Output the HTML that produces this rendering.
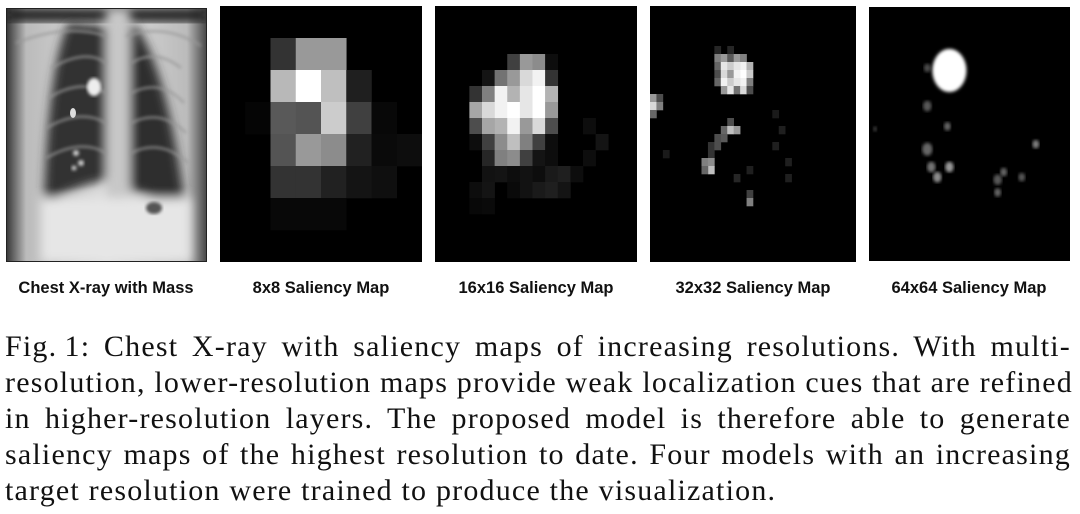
<!DOCTYPE html>
<html><head><meta charset="utf-8">
<style>
body{margin:0;width:1080px;height:514px;background:#fff;position:relative;overflow:hidden;font-family:"Liberation Sans",sans-serif}
.panel{position:absolute;top:7px;height:255px;background:#000}
.lbl{position:absolute;top:279px;font-weight:bold;font-size:16.5px;color:#111;text-align:center;width:230px}
.cap{position:absolute;left:5px;width:1066px;font-family:"Liberation Serif",serif;font-size:30px;color:#111;letter-spacing:1.2px}
.cap div{height:36px;line-height:36px;text-align:justify;text-align-last:justify;white-space:nowrap}
.cap div.last{text-align-last:left}
</style></head><body>
<svg class="panel" style="left:6px;width:201px;top:8px;height:254px" viewBox="0 0 201 254">
<defs>
<filter id="bl"><feGaussianBlur stdDeviation="5"/></filter>
<filter id="bl2"><feGaussianBlur stdDeviation="1.5"/></filter>
<linearGradient id="bg" x1="0" x2="1"><stop offset="0" stop-color="#333"/><stop offset=".1" stop-color="#bbb"/><stop offset=".5" stop-color="#ddd"/><stop offset=".9" stop-color="#bbb"/><stop offset="1" stop-color="#444"/></linearGradient>
</defs>
<rect width="201" height="254" fill="url(#bg)"/>
<rect x="0" y="0" width="201" height="14" fill="#222" filter="url(#bl)"/>
<g filter="url(#bl)">
<path d="M62 15 Q42 60 38 195 Q70 178 100 172 L100 18 Z" fill="#333"/>
<path d="M128 15 Q162 60 180 205 Q150 188 124 182 L122 18 Z" fill="#2e2e2e"/>
<rect x="100" y="0" width="24" height="254" fill="#c8c8c8"/>
<rect x="35" y="190" width="150" height="64" fill="#e6e6e6"/>
</g>
<g filter="url(#bl2)" stroke="#999" stroke-width="2.5" fill="none" opacity=".75">
<path d="M45 60 Q80 40 100 55"/><path d="M42 90 Q75 70 100 85"/><path d="M40 120 Q75 100 100 115"/><path d="M40 150 Q75 130 100 145"/>
<path d="M125 55 Q150 40 175 60"/><path d="M125 85 Q155 70 178 95"/><path d="M125 115 Q155 100 180 125"/><path d="M125 145 Q155 130 182 155"/>
<path d="M10 35 Q60 15 100 28"/><path d="M120 28 Q160 15 195 38"/>
</g>
<ellipse cx="88" cy="79" rx="7" ry="9" fill="#eee" filter="url(#bl2)"/>
<ellipse cx="67" cy="105" rx="3" ry="5" fill="#ddd"/>
<g fill="#ccc" filter="url(#bl2)"><circle cx="70" cy="145" r="3"/><circle cx="75" cy="155" r="3"/><circle cx="68" cy="160" r="2.5"/></g>
<ellipse cx="148" cy="200" rx="8" ry="6" fill="#555" filter="url(#bl2)"/>
<rect x="0" y="0" width="201" height="254" fill="none" stroke="#222" stroke-width="2"/>
</svg>
<div class="lbl" style="left:-9px">Chest X-ray with Mass</div>

<svg class="panel" id="p8" style="left:220px;width:202px;top:6px;height:256px" viewBox="0 0 202 256"></svg>
<div class="lbl" style="left:206px">8x8 Saliency Map</div>

<svg class="panel" id="p16" style="left:435px;width:202px;top:6px;height:256px" viewBox="0 0 202 256"></svg>
<div class="lbl" style="left:421px">16x16 Saliency Map</div>

<svg class="panel" id="p32" style="left:650px;width:206px;top:6px;height:256px" viewBox="0 0 206 256"></svg>
<div class="lbl" style="left:638px">32x32 Saliency Map</div>

<svg class="panel" id="p64" style="left:869px;width:201px;top:7px;height:254px" viewBox="0 0 201 254"></svg>
<div class="lbl" style="left:854px">64x64 Saliency Map</div>

<div class="cap" style="top:329px">
<div>Fig.&#8201;1: Chest X-ray with saliency maps of increasing resolutions. With multi-</div>
<div>resolution, lower-resolution maps provide weak localization cues that are refined</div>
<div>in higher-resolution layers. The proposed model is therefore able to generate</div>
<div>saliency maps of the highest resolution to date. Four models with an increasing</div>
<div class="last">target resolution were trained to produce the visualization.</div>
</div>
<script>
// 8x8 map cells: [row, col, intensity]
const cells8 = [[1,2,.2],[1,3,.6],[1,4,.6],[2,2,.72],[2,3,1],[2,4,.75],[2,5,.12],[3,1,.02],[3,2,.35],[3,3,.33],[3,4,.8],[3,5,.25],[3,6,.03],[4,2,.33],[4,3,.6],[4,4,.55],[4,5,.13],[4,6,.04],[4,7,.05],[5,2,.2],[5,3,.2],[5,4,.13],[5,5,.08],[5,6,.06],[6,2,.03],[6,3,.03],[6,4,.03]];
// 16x16 map cells
const cells16 = [[3,6,.25],[3,7,.6],[3,8,.55],[3,9,.05],[4,4,.08],[4,5,.45],[4,6,.6],[4,7,.85],[4,8,.95],[4,9,.2],[5,3,.2],[5,4,.5],[5,5,.95],[5,6,.7],[5,7,.9],[5,8,1],[5,9,.7],[6,3,.65],[6,4,.85],[6,5,.95],[6,6,1],[6,7,.9],[6,8,1],[6,9,.6],[7,3,.3],[7,4,.65],[7,5,.7],[7,6,.95],[7,7,.6],[7,8,.85],[7,9,.3],[7,12,.05],[8,3,.05],[8,4,.25],[8,5,.55],[8,6,.75],[8,7,.5],[8,8,.25],[8,9,.05],[8,13,.08],[9,4,.15],[9,5,.5],[9,6,.55],[9,7,.25],[9,8,.08],[9,9,.05],[9,12,.05],[10,4,.07],[10,5,.08],[10,6,.05],[10,7,.07],[10,8,.05],[10,9,.1],[10,10,.12],[10,11,.05],[11,3,.05],[11,4,.08],[11,6,.04],[11,7,.07],[11,8,.1],[11,9,.12],[11,10,.08],[12,3,.03],[12,4,.04]];
// 32x32 map cells
const cells32 = [[5,10,.15],[5,12,.15],[6,10,.5],[6,11,.6],[6,12,.35],[6,13,.6],[6,14,.5],[7,10,.4],[7,11,.9],[7,12,.8],[7,13,.9],[7,14,.95],[7,15,.7],[8,10,.3],[8,11,.85],[8,12,.6],[8,13,.95],[8,14,1],[8,15,.8],[9,10,.4],[9,11,.95],[9,12,.8],[9,13,.9],[9,14,.95],[9,15,.5],[10,11,.6],[10,12,.9],[10,13,.45],[10,14,.85],[10,15,.3],[11,0,.6],[11,1,.3],[12,0,.85],[12,1,.5],[13,0,.4],[14,12,.3],[15,11,.4],[15,12,.75],[15,13,.6],[16,10,.3],[16,11,.35],[17,9,.2],[17,10,.3],[18,9,.2],[19,8,.5],[19,9,.55],[20,9,.75],[20,8,.4],[21,13,.15],[23,15,.25],[24,15,.5],[15,20,.12],[17,19,.12],[19,21,.12],[21,21,.12],[13,19,.1],[18,2,.1],[20,15,.12]];
// 64x64 map spots: [x%, y%, radius%, intensity]
const spots64 = [[29,24,2,.3],[29,39,2.5,.35],[29,56,3,.4],[31,63,2.5,.45],[34,67,2.5,.55],[40,63,2.5,.6],[39,47,2,.4],[83,54,2,.5],[64,68,2.5,.35],[67,65,2,.4],[76,67,2,.35],[64,73,2,.4],[3,48,1.2,.25],[40,25,10,1]];

function grid(id, cells, n, w, h, ox){
  const svg=document.getElementById(id);
  const cw=w/n, ch=h/n;
  cells.forEach(c=>{
    const r=document.createElementNS('http://www.w3.org/2000/svg','rect');
    
    
    r.setAttribute('x',ox+c[1]*cw);r.setAttribute('y',c[0]*ch);
    r.setAttribute('width',cw+0.3);r.setAttribute('height',ch+0.3);
    const g=Math.round(c[2]*255);
    r.setAttribute('fill','rgb('+g+','+g+','+g+')');
    svg.appendChild(r);
  });
}
grid('p8',cells8,8,202,256,0);
grid('p16',cells16,16,202,256,-3.5);
grid('p32',cells32,32,206,256,0);
(function(){
  const svg=document.getElementById('p64');
  const ns='http://www.w3.org/2000/svg';
  const d=document.createElementNS(ns,'defs');
  d.innerHTML='<filter id="b64"><feGaussianBlur stdDeviation="1.5"/></filter>';
  svg.appendChild(d);
  spots64.forEach(s=>{
    const c=document.createElementNS(ns,'ellipse');
    
    
    c.setAttribute('cx',s[0]*2.01);c.setAttribute('cy',s[1]*2.54);
    c.setAttribute('rx',s[2]*2.01*0.85);c.setAttribute('ry',s[2]*2.54*0.85);
    const g=Math.round(s[3]*255);
    c.setAttribute('fill','rgb('+g+','+g+','+g+')');
    c.setAttribute('filter','url(#b64)');
    svg.appendChild(c);
  });
})();
</script>
</body></html>
